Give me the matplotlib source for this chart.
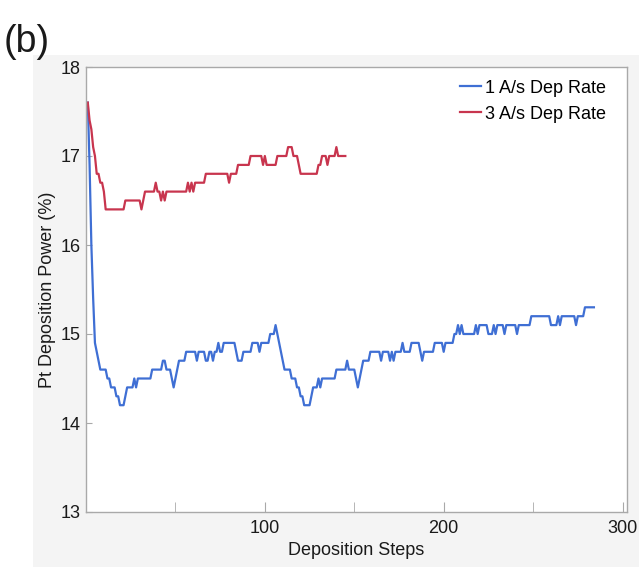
import matplotlib
matplotlib.use("Agg")
import matplotlib.pyplot as plt
import numpy as np
from matplotlib.patches import Rectangle
from matplotlib.ticker import MultipleLocator

plt.rcParams['font.family'] = ['Liberation Sans', 'DejaVu Sans']

# Pt deposition power (%) per deposition step, 1 A/s dep rate (steps 1..284)
rate1 = [
    17.6, 16.9, 16.0, 15.4, 14.9, 14.8, 14.7, 14.6, 14.6, 14.6,
    14.6, 14.5, 14.5, 14.4, 14.4, 14.4, 14.3, 14.3, 14.2, 14.2,
    14.2, 14.3, 14.4, 14.4, 14.4, 14.4, 14.5, 14.4, 14.5, 14.5,
    14.5, 14.5, 14.5, 14.5, 14.5, 14.5, 14.6, 14.6, 14.6, 14.6,
    14.6, 14.6, 14.7, 14.7, 14.6, 14.6, 14.6, 14.5, 14.4, 14.5,
    14.6, 14.7, 14.7, 14.7, 14.7, 14.8, 14.8, 14.8, 14.8, 14.8,
    14.8, 14.7, 14.8, 14.8, 14.8, 14.8, 14.7, 14.7, 14.8, 14.8,
    14.7, 14.8, 14.8, 14.9, 14.8, 14.8, 14.9, 14.9, 14.9, 14.9,
    14.9, 14.9, 14.9, 14.8, 14.7, 14.7, 14.7, 14.8, 14.8, 14.8,
    14.8, 14.8, 14.9, 14.9, 14.9, 14.9, 14.8, 14.9, 14.9, 14.9,
    14.9, 14.9, 15.0, 15.0, 15.0, 15.1, 15.0, 14.9, 14.8, 14.7,
    14.6, 14.6, 14.6, 14.6, 14.5, 14.5, 14.5, 14.4, 14.4, 14.3,
    14.3, 14.2, 14.2, 14.2, 14.2, 14.3, 14.4, 14.4, 14.4, 14.5,
    14.4, 14.5, 14.5, 14.5, 14.5, 14.5, 14.5, 14.5, 14.5, 14.6,
    14.6, 14.6, 14.6, 14.6, 14.6, 14.7, 14.6, 14.6, 14.6, 14.6,
    14.5, 14.4, 14.5, 14.6, 14.7, 14.7, 14.7, 14.7, 14.8, 14.8,
    14.8, 14.8, 14.8, 14.8, 14.7, 14.8, 14.8, 14.8, 14.8, 14.7,
    14.8, 14.7, 14.8, 14.8, 14.8, 14.8, 14.9, 14.8, 14.8, 14.8,
    14.8, 14.9, 14.9, 14.9, 14.9, 14.9, 14.8, 14.7, 14.8, 14.8,
    14.8, 14.8, 14.8, 14.8, 14.9, 14.9, 14.9, 14.9, 14.9, 14.8,
    14.9, 14.9, 14.9, 14.9, 14.9, 15.0, 15.0, 15.1, 15.0, 15.1,
    15.0, 15.0, 15.0, 15.0, 15.0, 15.0, 15.0, 15.1, 15.0, 15.1,
    15.1, 15.1, 15.1, 15.1, 15.0, 15.0, 15.0, 15.1, 15.0, 15.1,
    15.1, 15.1, 15.1, 15.0, 15.1, 15.1, 15.1, 15.1, 15.1, 15.1,
    15.0, 15.1, 15.1, 15.1, 15.1, 15.1, 15.1, 15.1, 15.2, 15.2,
    15.2, 15.2, 15.2, 15.2, 15.2, 15.2, 15.2, 15.2, 15.2, 15.1,
    15.1, 15.1, 15.1, 15.2, 15.1, 15.2, 15.2, 15.2, 15.2, 15.2,
    15.2, 15.2, 15.2, 15.1, 15.2, 15.2, 15.2, 15.2, 15.3, 15.3,
    15.3, 15.3, 15.3, 15.3,
]

# Pt deposition power (%) per deposition step, 3 A/s dep rate (steps 1..145)
rate3 = [
    17.6, 17.4, 17.3, 17.1, 17.0, 16.8, 16.8, 16.7, 16.7, 16.6,
    16.4, 16.4, 16.4, 16.4, 16.4, 16.4, 16.4, 16.4, 16.4, 16.4,
    16.4, 16.5, 16.5, 16.5, 16.5, 16.5, 16.5, 16.5, 16.5, 16.5,
    16.4, 16.5, 16.6, 16.6, 16.6, 16.6, 16.6, 16.6, 16.7, 16.6,
    16.6, 16.5, 16.6, 16.5, 16.6, 16.6, 16.6, 16.6, 16.6, 16.6,
    16.6, 16.6, 16.6, 16.6, 16.6, 16.6, 16.7, 16.6, 16.7, 16.6,
    16.7, 16.7, 16.7, 16.7, 16.7, 16.7, 16.8, 16.8, 16.8, 16.8,
    16.8, 16.8, 16.8, 16.8, 16.8, 16.8, 16.8, 16.8, 16.8, 16.7,
    16.8, 16.8, 16.8, 16.8, 16.9, 16.9, 16.9, 16.9, 16.9, 16.9,
    16.9, 17.0, 17.0, 17.0, 17.0, 17.0, 17.0, 17.0, 16.9, 17.0,
    16.9, 16.9, 16.9, 16.9, 16.9, 16.9, 17.0, 17.0, 17.0, 17.0,
    17.0, 17.0, 17.1, 17.1, 17.1, 17.0, 17.0, 17.0, 16.9, 16.8,
    16.8, 16.8, 16.8, 16.8, 16.8, 16.8, 16.8, 16.8, 16.8, 16.9,
    16.9, 17.0, 17.0, 17.0, 16.9, 17.0, 17.0, 17.0, 17.0, 17.1,
    17.0, 17.0, 17.0, 17.0, 17.0,
]

labels = ["1 A/s Dep Rate", "3 A/s Dep Rate"]
colors = ["#3f6fd4", "#c8354e"]

fig = plt.figure(figsize=(6.39, 5.67), dpi=100)
# light grey panel behind the plot, as in the original screenshot
fig.patches.append(Rectangle((33 / 639, 0), 1, 1 - 55 / 567, transform=fig.transFigure,
                             facecolor="#f4f4f4", edgecolor="none", zorder=-5))
ax = fig.add_axes([86 / 639, 55 / 567, 541 / 639, 445 / 567])
ax.set_facecolor("white")

steps1 = np.arange(1, len(rate1) + 1)
steps3 = np.arange(1, len(rate3) + 1)
ax.plot(steps1, rate1, color=colors[0], lw=1.6, label=labels[0])
ax.plot(steps3, rate3, color=colors[1], lw=1.6, label=labels[1])

ax.set_xlim(0, 302.5)
ax.set_ylim(13, 18)
ax.set_xticks([100, 200, 300])
ax.xaxis.set_minor_locator(MultipleLocator(50))
ax.set_yticks([13, 14, 15, 16, 17, 18])

for s in ax.spines.values():
    s.set_color("#a9a9a9")
    s.set_linewidth(1.0)
ax.tick_params(axis="both", which="both", direction="in", color="#a9a9a9",
               labelsize=13, labelcolor="#1a1a1a")
ax.tick_params(axis="x", which="major", length=7, pad=5.5)
ax.tick_params(axis="x", which="minor", length=7)
ax.tick_params(axis="y", length=4, pad=4)

ax.set_xlabel("Deposition Steps", fontsize=13, color="#1a1a1a", labelpad=4)
ax.set_ylabel("Pt Deposition Power (%)", fontsize=13, color="#1a1a1a", labelpad=3)

ax.legend(loc="upper right", bbox_to_anchor=(0.991, 1.008), frameon=False, fontsize=13,
          handlelength=1.2, handletextpad=0.2, labelspacing=0.5)

fig.text(0.006, 1 - 42 / 567, "(b)", fontsize=27, va="center", ha="left", color="#1a1a1a")

fig.savefig("out.png", dpi=100)
